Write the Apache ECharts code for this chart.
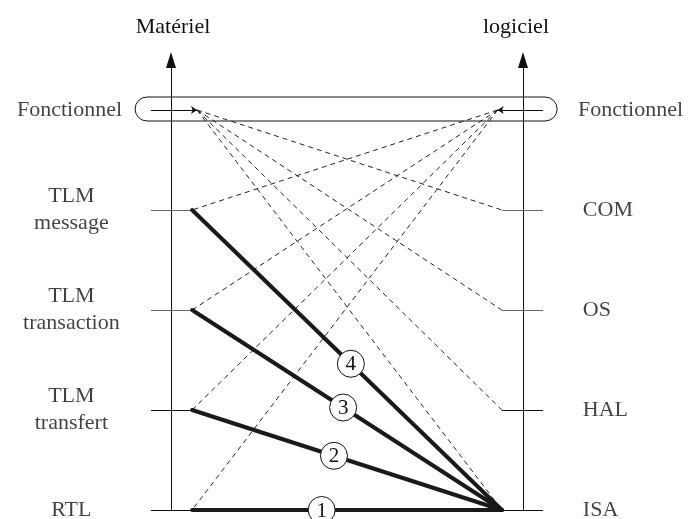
<!DOCTYPE html>
<html>
<head>
<meta charset="utf-8">
<script src="https://cdn.jsdelivr.net/npm/echarts@6/dist/echarts.min.js"></script>
<style>html,body{margin:0;padding:0;background:#fff}#c{width:691px;height:519px}</style>
</head>
<body>
<div id="c"></div>
<script>
// Abstraction levels (0 = lowest, 4 = Fonctionnel)
const hwLevels = ['RTL', 'TLM\ntransfert', 'TLM\ntransaction', 'TLM\nmessage', 'Fonctionnel'];
const swLevels = ['ISA', 'HAL', 'OS', 'COM', 'Fonctionnel'];
const axisNames = ['Matériel', 'logiciel'];
// numbered refinement paths: hardware level -> ISA
const stepLabels = ['1', '2', '3', '4'];
const stepFromLevel = [0, 1, 2, 3];
const stepMarkX = [42.8, 46.3, 48.9, 51.1];

// horizontal positions (x: hardware axis = 0, software axis = 100)
const HW_AXIS = 0, SW_AXIS = 100;
const HW_NODE = 6, SW_NODE = 94;
const HW_TICK = -5.7, SW_TICK = 105.7;
const HW_FUNC = 7.4, SW_FUNC = 92.8;
const CAP_L = -10.2, CAP_R = 109.7;
const TOP = 4;

const font = 'Liberation Serif, Times New Roman, serif';

// ticks
const tickData = [];
for (let i = 0; i < TOP; i++) {
  tickData.push({coords: [[HW_TICK, i], [HW_NODE, i]], lineStyle: {color: i >= 2 ? '#666' : '#111'}});
  tickData.push({coords: [[SW_NODE, i], [SW_TICK, i]], lineStyle: {color: i >= 2 ? '#666' : '#111'}});
}
// thick refinement lines
const thickData = stepFromLevel.map(l => ({coords: [[HW_NODE, l], [SW_NODE, 0]]}));
// dashed links from Fonctionnel
const dashData = [];
for (let i = 0; i < TOP; i++) {
  dashData.push({coords: [[HW_FUNC, TOP], [SW_NODE, i]]});
  dashData.push({coords: [[SW_FUNC, TOP], [HW_NODE, i]]});
}
// step markers on thick lines
const stepData = stepLabels.map((s, k) => {
  const l = stepFromLevel[k];
  const x = stepMarkX[k];
  return {value: [x, l * (SW_NODE - x) / (SW_NODE - HW_NODE)], name: s};
});

const leftLabelData = hwLevels.slice(0, TOP).map((n, i) => ({value: [-28.3, i], name: n}));
const rightLabelData = swLevels.slice(0, TOP).map((n, i) => ({value: [117, i], name: n}));

const chart = echarts.init(document.getElementById('c'), null, {renderer: 'canvas'});
chart.setOption({
  animation: false,
  backgroundColor: '#fff',
  grid: {left: 171, right: 168, top: 60, bottom: 9},
  xAxis: {type: 'value', min: HW_AXIS, max: SW_AXIS, show: false},
  yAxis: [
    {type: 'value', min: 0, max: 4.5, position: 'left',
     name: axisNames[0], nameLocation: 'end', nameGap: 22,
     nameTextStyle: {fontFamily: font, fontSize: 22, color: '#111', padding: [0, 0, 0, 4]},
     axisLine: {show: true, onZero: false, symbol: ['none', 'triangle'], symbolSize: [10, 16], lineStyle: {color: '#111', width: 1}},
     axisTick: {show: false}, axisLabel: {show: false}, splitLine: {show: false}},
    {type: 'value', min: 0, max: 4.5, position: 'right',
     name: axisNames[1], nameLocation: 'end', nameGap: 22,
     nameTextStyle: {fontFamily: font, fontSize: 22, color: '#111', padding: [0, 14, 0, 0]},
     axisLine: {show: true, onZero: false, symbol: ['none', 'triangle'], symbolSize: [10, 16], lineStyle: {color: '#111', width: 1}},
     axisTick: {show: false}, axisLabel: {show: false}, splitLine: {show: false}}
  ],
  series: [
    {type: 'custom', coordinateSystem: 'cartesian2d', silent: true,
     data: [[CAP_L, CAP_R, TOP]],
     renderItem: function (params, api) {
       const a = api.coord([api.value(0), api.value(2)]);
       const b = api.coord([api.value(1), api.value(2)]);
       const h = 24;
       return {type: 'rect', shape: {x: a[0], y: a[1] - h / 2 - 1, width: b[0] - a[0], height: h, r: h / 2},
               style: {fill: 'none', stroke: '#111', lineWidth: 1}};
     }},
    {type: 'lines', coordinateSystem: 'cartesian2d', clip: false, silent: true,
     lineStyle: {color: '#111', width: 1, opacity: 1}, data: tickData},
    {type: 'lines', coordinateSystem: 'cartesian2d', clip: false, silent: true,
     lineStyle: {color: '#222', width: 1, type: [5, 4], opacity: 1}, data: dashData},
    {type: 'lines', coordinateSystem: 'cartesian2d', clip: false, silent: true,
     symbol: ['none', 'arrow'], symbolSize: 6,
     lineStyle: {color: '#111', width: 1, opacity: 1},
     data: [{coords: [[HW_TICK, TOP], [HW_FUNC, TOP]]}, {coords: [[SW_TICK, TOP], [SW_FUNC, TOP]]}]},
    {type: 'lines', coordinateSystem: 'cartesian2d', clip: false, silent: true,
     lineStyle: {color: '#1a1a1a', width: 4, cap: 'round', opacity: 1}, data: thickData},
    {type: 'scatter', clip: false, silent: true, symbol: 'circle', symbolSize: 27,
     itemStyle: {color: '#fff', borderColor: '#111', borderWidth: 1, opacity: 1},
     label: {show: true, position: 'inside', formatter: '{b}', fontFamily: font, fontSize: 21, color: '#111', offset: [0, 1]},
     data: stepData},
    {type: 'scatter', clip: false, silent: true, symbolSize: 0,
     label: {show: true, position: 'inside', formatter: '{b}', fontFamily: font, fontSize: 22, lineHeight: 27, color: '#111', align: 'center'},
     data: leftLabelData},
    {type: 'scatter', clip: false, silent: true, symbolSize: 0,
     label: {show: true, position: 'inside', formatter: '{b}', fontFamily: font, fontSize: 22, color: '#111', align: 'left'},
     data: rightLabelData},
    {type: 'scatter', clip: false, silent: true, symbolSize: 0,
     label: {show: true, position: 'inside', formatter: '{b}', fontFamily: font, fontSize: 22, color: '#111'},
     data: [
       {value: [-13.9, TOP], name: hwLevels[TOP], label: {align: 'right'}},
       {value: [115.6, TOP], name: swLevels[TOP], label: {align: 'left'}}
     ]}
  ]
});
</script>
</body>
</html>
